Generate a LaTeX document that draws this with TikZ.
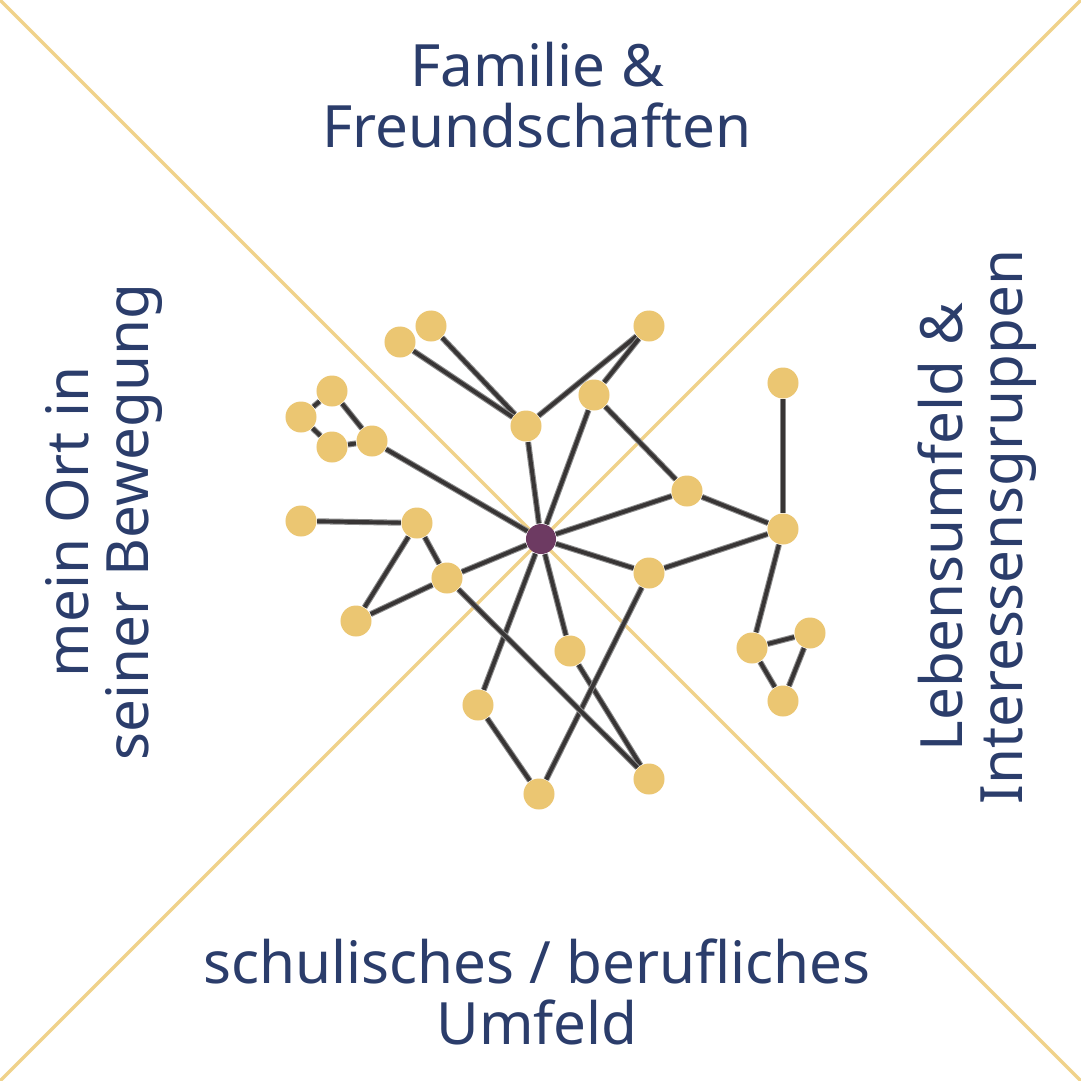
\documentclass[tikz,border=0pt]{standalone}
\usepackage{fontspec}
\setmainfont{Noto Sans}
\usepackage{tikz}
\usetikzlibrary{backgrounds}

\definecolor{navy}{HTML}{2B3D6B}
\definecolor{gold}{HTML}{EBC672}
\definecolor{plum}{HTML}{6D3A62}
\definecolor{rulegold}{HTML}{F0D28A}
\definecolor{wire}{HTML}{383535}

\begin{document}
\begin{tikzpicture}[x=0.01cm,y=-0.01cm,
		every node/.style={inner sep=0pt},
		dot/.style={circle,fill=gold,minimum size=0.31cm},
		hub/.style={circle,fill=plum,minimum size=0.3cm},
		link/.style={draw=wire,line width=1.1pt,preaction={draw=black!45,line width=1.7pt}},
		quarter/.style={draw=rulegold,line width=1pt},
		label/.style={text=navy,align=center,font=\fontsize{16.6}{17.2}\selectfont}]

		\useasboundingbox (0,0) rectangle (1081,1081);

		% Ecken
		\coordinate (nw) at (0,0);
		\coordinate (ne) at (1081,0);
		\coordinate (sw) at (0,1081);
		\coordinate (se) at (1081,1081);

		% Beschriftung der vier Felder
		\node [label] (top) at (537,95) {Familie \&\\Freundschaften};
		\node [label] (bottom) at (537,992) {schulisches / berufliches\\Umfeld};
		\node [label,rotate=90] (left) at (104,522) {mein Ort in\\seiner Bewegung};
		\node [label,rotate=90] (right) at (977,527) {Lebensumfeld \&\\Interessensgruppen};

		% Netz
		\node [hub] (ego) at (541,539) {};
		\foreach \name/\x/\y in {fam1/431/326, fam2/400/342, fam3/526/426, fam4/649/326, fam5/594/395,
			leb1/687/491, leb2/783/383, leb3/783/529, leb4/649/573, leb5/752/648, leb6/810/633, leb7/783/701,
			sch1/570/651, sch2/649/779, sch3/539/794, sch4/478/705,
			ort1/447/578, ort2/417/523, ort3/301/521, ort4/356/621, ort5/372/441, ort6/332/391, ort7/301/417, ort8/332/447}
			\node [dot] (\name) at (\x,\y) {};

		\begin{scope}[on background layer]
			\fill [white] (nw) rectangle (se);
			\draw [quarter] (nw) -- (se);
			\draw [quarter] (ne) -- (sw);
			\foreach \a/\b in {fam1/fam3, fam2/fam3, fam3/fam4, fam4/fam5, fam3/ego, fam5/ego, fam5/leb1,
				leb1/ego, leb1/leb3, leb2/leb3, ego/leb4, leb4/leb3, leb3/leb5, leb5/leb6, leb6/leb7, leb5/leb7,
				ego/sch1, sch1/sch2, ego/sch4, sch4/sch3, sch3/leb4,
				ego/ort1, ort1/sch2, ort1/ort2, ort2/ort3, ort2/ort4, ort4/ort1,
				ego/ort5, ort5/ort6, ort6/ort7, ort7/ort8, ort8/ort5}
				\draw [link] (\a) -- (\b);
		\end{scope}

\end{tikzpicture}
\end{document}
